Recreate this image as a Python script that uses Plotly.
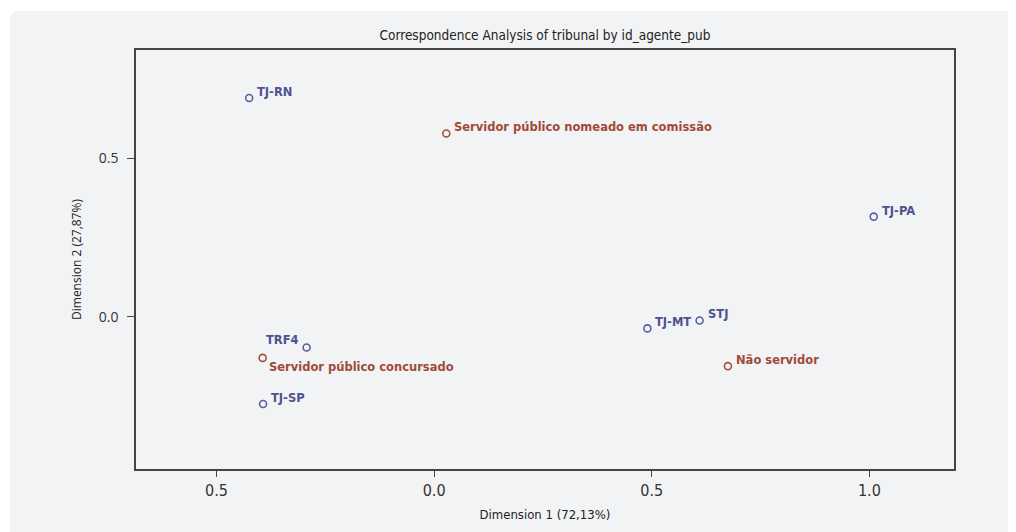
import plotly.graph_objects as go

# Row points (tribunal)
trib_labels = ["TJ-RN", "TJ-PA", "TJ-MT", "STJ", "TRF4", "TJ-SP"]
trib_x = [-0.425, 1.010, 0.490, 0.610, -0.293, -0.393]
trib_y = [0.690, 0.316, -0.036, -0.011, -0.096, -0.274]

# Column points (id_agente_pub)
agent_labels = ["Servidor público nomeado em comissão", "Não servidor", "Servidor público concursado"]
agent_x = [0.028, 0.675, -0.394]
agent_y = [0.578, -0.155, -0.129]

x_ticks = [-0.5, 0.0, 0.5, 1.0]
x_ticktext = ["0.5", "0.0", "0.5", "1.0"]
y_ticks = [0.0, 0.5]
y_ticktext = ["0.0", "0.5"]

# page has an 8px body margin, so figure is offset by 8px
OFF = 8
W, H = 1016 - OFF, 532 - OFF
L, R, T, B = 136 - OFF, 954.5 - OFF, 49.5 - OFF, 473.3 - OFF

COND = "DejaVu Sans Condensed, DejaVu Sans"
BLUE_M, BLUE_T = "#5a5e9e", "#4d5291"
RED_M, RED_T = "#a4503c", "#a04a38"

fig = go.Figure()
fig.add_trace(go.Scatter(
    x=trib_x, y=trib_y, mode="markers",
    marker=dict(symbol="circle-open", size=7, color=BLUE_M, line=dict(width=1.6)),
    cliponaxis=False, showlegend=False, hoverinfo="skip"))
fig.add_trace(go.Scatter(
    x=agent_x, y=agent_y, mode="markers",
    marker=dict(symbol="circle-open", size=7, color=RED_M, line=dict(width=1.6)),
    cliponaxis=False, showlegend=False, hoverinfo="skip"))

# label placement: default is up-right of the point
special = {
    "TRF4": dict(xanchor="right", xshift=-6, yshift=7),
    "Servidor público concursado": dict(xanchor="left", xshift=4, yshift=-9),
}

def add_labels(labels, xs, ys, color):
    for lab, x, y in zip(labels, xs, ys):
        opts = special.get(lab, dict(xanchor="left", xshift=6, yshift=6))
        fig.add_annotation(x=x, y=y, text=lab, showarrow=False, yanchor="middle",
                           font=dict(family="DejaVu Sans", size=11.5, color=color, weight="bold"),
                           **opts)

add_labels(trib_labels, trib_x, trib_y, BLUE_T)
add_labels(agent_labels, agent_x, agent_y, RED_T)

def px(xp):
    return (xp - L) / (R - L)

def py(yp):
    return (B - yp) / (B - T)

x0, y0, rad = 10 - OFF, 10 - OFF, 9
path = (f"M {px(x0)},{py(H+5)} L {px(x0)},{py(y0+rad)} "
        f"Q {px(x0)},{py(y0)} {px(x0+rad)},{py(y0)} "
        f"L {px(W+5)},{py(y0)} L {px(W+5)},{py(H+5)} Z")
fig.add_shape(type="path", path=path, xref="paper", yref="paper",
              fillcolor="#f2f3f5", line=dict(width=0), layer="below")

fig.update_layout(
    width=W, height=H,
    margin=dict(l=L, r=W - R, t=T, b=H - B, pad=0),
    paper_bgcolor="white", plot_bgcolor="#f2f3f5",
    title=dict(text="Correspondence Analysis of tribunal by id_agente_pub",
               x=(545 - OFF) / W, xanchor="center", y=1 - (35.5 - OFF) / H, yanchor="middle",
               font=dict(family=COND, size=13.5, color="#222")),
    xaxis=dict(range=[-0.685, 1.1945], tickvals=x_ticks, ticktext=x_ticktext,
               showgrid=False, zeroline=False, showline=True, mirror=True,
               linecolor="#444", linewidth=1.5, ticks="outside", ticklen=6,
               tickcolor="#444", tickwidth=1,
               tickfont=dict(family=COND, size=16, color="#333"),
               title=dict(text="Dimension 1 (72,13%)", standoff=11,
                          font=dict(family=COND, size=13, color="#222"))),
    yaxis=dict(range=[-0.479, 0.841], tickvals=y_ticks, ticktext=y_ticktext,
               showgrid=False, zeroline=False, showline=True, mirror=True,
               linecolor="#444", linewidth=1.5, ticks="outside", ticklen=7,
               tickcolor="#444", tickwidth=1, ticklabelstandoff=6,
               tickfont=dict(family="Open Sans", size=14, color="#333"),
               title=dict(text="Dimension 2 (27,87%)", standoff=15,
                          font=dict(family="Open Sans", size=12, color="#222"))),
)

fig.write_html("out.html")
